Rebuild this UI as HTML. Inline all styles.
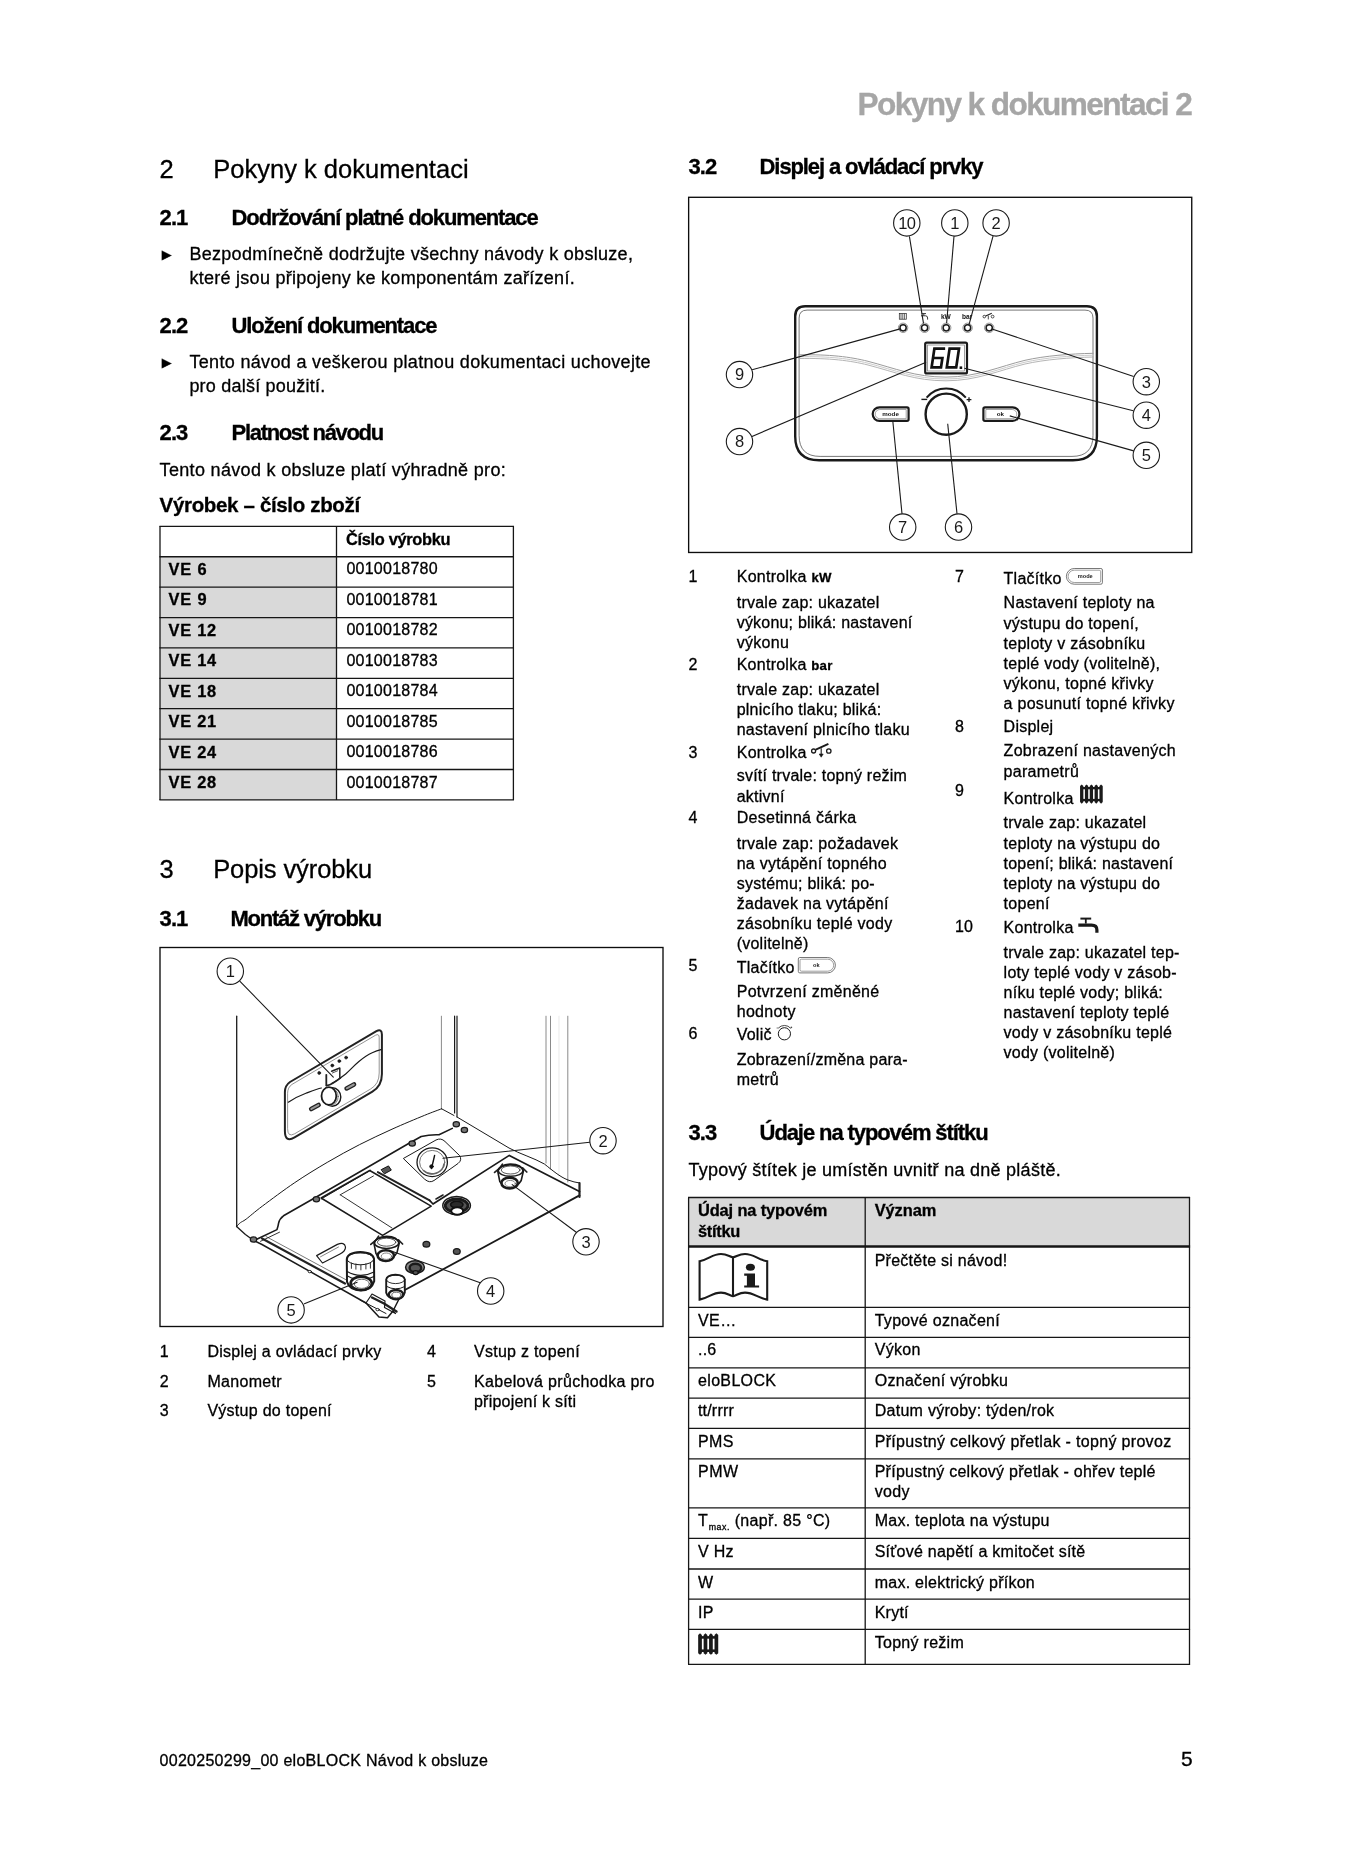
<!DOCTYPE html>
<html lang="cs"><head><meta charset="utf-8"><title>eloBLOCK – Návod k obsluze, strana 5</title>
<style>
html,body{margin:0;padding:0;background:#fff}
body{width:1358px;height:1872px;position:relative;overflow:hidden;font-family:"Liberation Sans",sans-serif;color:#000}
.t{position:absolute;white-space:nowrap;line-height:1;margin:0;padding:0;-webkit-text-stroke:0.3px currentColor}
.s{font-size:13.2px}
.sub{font-size:8.8px;position:relative;top:3.7px;letter-spacing:0.55px;margin-left:0.6px}
.ab{position:absolute}
#page{position:absolute;left:0;top:0;width:1358px;height:1872px;overflow:hidden;background:#fff;will-change:transform;filter:grayscale(1)}
#txt{position:absolute;left:0;top:0;width:1358px;height:1872px}
svg{position:absolute;left:0;top:0;overflow:visible}
</style></head>
<body>
<div id="page">
<svg width="1358" height="1872" viewBox="0 0 1358 1872" shape-rendering="auto">
<rect x="160.0" y="556.74" width="176.5" height="243.17" fill="#d9d9d9"/>
<line x1="159.4" y1="526.34" x2="514.0" y2="526.34" stroke="#161616" stroke-width="1.3"/>
<line x1="159.4" y1="556.74" x2="514.0" y2="556.74" stroke="#161616" stroke-width="1.3"/>
<line x1="159.4" y1="587.13" x2="514.0" y2="587.13" stroke="#161616" stroke-width="1.3"/>
<line x1="159.4" y1="617.53" x2="514.0" y2="617.53" stroke="#161616" stroke-width="1.3"/>
<line x1="159.4" y1="647.92" x2="514.0" y2="647.92" stroke="#161616" stroke-width="1.3"/>
<line x1="159.4" y1="678.32" x2="514.0" y2="678.32" stroke="#161616" stroke-width="1.3"/>
<line x1="159.4" y1="708.72" x2="514.0" y2="708.72" stroke="#161616" stroke-width="1.3"/>
<line x1="159.4" y1="739.11" x2="514.0" y2="739.11" stroke="#161616" stroke-width="1.3"/>
<line x1="159.4" y1="769.51" x2="514.0" y2="769.51" stroke="#161616" stroke-width="1.3"/>
<line x1="159.4" y1="799.90" x2="514.0" y2="799.90" stroke="#161616" stroke-width="1.3"/>
<line x1="160.0" y1="526.34" x2="160.0" y2="799.90" stroke="#161616" stroke-width="1.3"/>
<line x1="336.5" y1="526.34" x2="336.5" y2="799.90" stroke="#161616" stroke-width="1.3"/>
<line x1="513.4" y1="526.34" x2="513.4" y2="799.90" stroke="#161616" stroke-width="1.3"/>
<rect x="688.6" y="1197.5" width="500.9" height="49.0" fill="#d9d9d9"/>
<line x1="688.0" y1="1197.5" x2="1190.1" y2="1197.5" stroke="#161616" stroke-width="1.3"/>
<line x1="688.0" y1="1246.5" x2="1190.1" y2="1246.5" stroke="#161616" stroke-width="2.4"/>
<line x1="688.0" y1="1307.35" x2="1190.1" y2="1307.35" stroke="#161616" stroke-width="1.3"/>
<line x1="688.0" y1="1337.35" x2="1190.1" y2="1337.35" stroke="#161616" stroke-width="1.3"/>
<line x1="688.0" y1="1367.8" x2="1190.1" y2="1367.8" stroke="#161616" stroke-width="1.3"/>
<line x1="688.0" y1="1398.15" x2="1190.1" y2="1398.15" stroke="#161616" stroke-width="1.3"/>
<line x1="688.0" y1="1428.45" x2="1190.1" y2="1428.45" stroke="#161616" stroke-width="1.3"/>
<line x1="688.0" y1="1458.95" x2="1190.1" y2="1458.95" stroke="#161616" stroke-width="1.3"/>
<line x1="688.0" y1="1507.9" x2="1190.1" y2="1507.9" stroke="#161616" stroke-width="1.3"/>
<line x1="688.0" y1="1538.45" x2="1190.1" y2="1538.45" stroke="#161616" stroke-width="1.3"/>
<line x1="688.0" y1="1569.0" x2="1190.1" y2="1569.0" stroke="#161616" stroke-width="1.3"/>
<line x1="688.0" y1="1599.2" x2="1190.1" y2="1599.2" stroke="#161616" stroke-width="1.3"/>
<line x1="688.0" y1="1629.3" x2="1190.1" y2="1629.3" stroke="#161616" stroke-width="1.3"/>
<line x1="688.0" y1="1664.4" x2="1190.1" y2="1664.4" stroke="#161616" stroke-width="1.3"/>
<line x1="688.6" y1="1197.5" x2="688.6" y2="1664.4" stroke="#161616" stroke-width="1.3"/>
<line x1="865.2" y1="1197.5" x2="865.2" y2="1664.4" stroke="#161616" stroke-width="1.3"/>
<line x1="1189.5" y1="1197.5" x2="1189.5" y2="1664.4" stroke="#161616" stroke-width="1.3"/>
<rect x="160.0" y="947.5" width="503.0" height="379.0" fill="none" stroke="#0d0d0d" stroke-width="1.35"/>
<rect x="688.64" y="197.3" width="503.1" height="355.17" fill="none" stroke="#0d0d0d" stroke-width="1.35"/>
</svg>
<svg width="1358" height="1872" viewBox="0 0 1358 1872" font-family="Liberation Sans, sans-serif" fill="none" stroke-linecap="round" stroke-linejoin="round">
<path d="M236.7,1016.2 V1226.5" stroke="#1a1a1a" stroke-width="1.3" fill="none"/>
<path d="M441.4,1016.2 V1108.9" stroke="#8a8a8a" stroke-width="1.0" fill="none"/>
<path d="M454.6,1016.2 V1113 M457.0,1016.2 V1117" stroke="#1a1a1a" stroke-width="1.2" fill="none"/>
<path d="M546.0,1016.2 V1163 M550.5,1016.2 V1169" stroke="#8a8a8a" stroke-width="1.0" fill="none"/>
<path d="M567.8,1016.2 V1182" stroke="#8a8a8a" stroke-width="1.0" fill="none"/>
<path d="M559,1016.2 V1176" stroke="#dcdcdc" stroke-width="0.6" fill="none"/>
<path d="M236.6,1226.4 C237.2,1225.8 238.9,1223.8 240.5,1222.6 C242.1,1221.4 242.5,1221.8 246.2,1219.1 C249.8,1216.3 254.3,1212.2 262.4,1206.1 C270.5,1200.0 284.0,1189.9 294.8,1182.6 C305.6,1175.3 316.4,1168.7 327.2,1162.4 C338.0,1156.1 348.8,1150.1 359.6,1144.6 C370.4,1139.1 381.2,1134.1 392,1129.2 C402.8,1124.3 416.1,1118.8 424.4,1115.4 C432.7,1112.0 438.7,1109.9 441.6,1108.8" stroke="#1a1a1a" stroke-width="1.0" fill="none"/>
<path d="M441.6,1108.8 L454,1115.5" stroke="#1a1a1a" stroke-width="1.0" fill="none"/>
<path d="M457,1117 L509,1148 C520,1154 534,1158 544.4,1164 C552,1170 560,1177 568,1180 C572,1181.5 576,1182.5 579.5,1183" stroke="#1a1a1a" stroke-width="1.0" fill="none"/>
<path d="M236.6,1226.4 L245.4,1234.5 L253.7,1240.5" stroke="#1a1a1a" stroke-width="1.3" fill="none"/>
<path d="M284.9,1092 Q284.9,1085.6 290,1082 L376.4,1031.2 Q381.9,1028.4 381.9,1034.6 V1074 Q381.9,1086 372.4,1091.6 L294.6,1137.4 Q284.9,1143 284.9,1131 Z" stroke="#222" stroke-width="2.0" fill="#fff"/>
<path d="M287.6,1093 Q287.6,1087.4 292,1084.4 L375.6,1035.2 Q379.2,1033.4 379.2,1037.6 V1073 Q379.2,1084 370.6,1089 L294.6,1133.8 Q287.6,1137.6 287.6,1129 Z" stroke="#666" stroke-width="0.7" fill="none"/>
<path d="M288.3,1102.2 C294,1098.5 300,1095.5 305.9,1093.3 C312,1091 317,1089 321.4,1088" stroke="#1a1a1a" stroke-width="1.2" fill="none"/>
<path d="M331.6,1083.6 C337,1080.5 341,1077.5 345.7,1073.9 C350,1070.5 354,1065.5 358.9,1061.5 C363,1058 368,1054.5 372.2,1052.7 C375,1051.5 378,1050.4 381,1049.6" stroke="#1a1a1a" stroke-width="1.2" fill="none"/>
<path d="M326.6,1085.6 C331,1084.6 336,1081.5 340.5,1077.8" stroke="#222" stroke-width="1.6" fill="none"/>
<ellipse cx="332.4" cy="1097.0" rx="8.4" ry="9.3" stroke="#1a1a1a" stroke-width="1.4" fill="#fff"/>
<ellipse cx="330.6" cy="1096.6" rx="7.6" ry="8.8" stroke="#555" stroke-width="0.8" fill="#fff"/>
<ellipse cx="328.9" cy="1096.0" rx="7.4" ry="8.8" stroke="#1a1a1a" stroke-width="1.8" fill="#fff"/>
<path d="M326.3,1074.8 V1085.4" stroke="#222" stroke-width="1.8" fill="none"/>
<path d="M331.6,1071.3 L339.8,1068.0 V1077.4" stroke="#222" stroke-width="1.5" fill="none"/>
<path d="M332.4,1073.0 L337.6,1070.8" stroke="#444" stroke-width="0.9" fill="none"/>
<circle cx="319.2" cy="1073.0" r="1.45" stroke="#1a1a1a" stroke-width="0.7" fill="#1a1a1a"/>
<circle cx="332.3" cy="1065.5" r="1.45" stroke="#1a1a1a" stroke-width="0.7" fill="#1a1a1a"/>
<circle cx="339.3" cy="1061.1" r="1.45" stroke="#1a1a1a" stroke-width="0.7" fill="#1a1a1a"/>
<circle cx="346.1" cy="1057.6" r="1.45" stroke="#1a1a1a" stroke-width="0.7" fill="#1a1a1a"/>
<path d="M311.2,1109.0 L318.6,1105.0" stroke="#222" stroke-width="4.6" fill="none"/>
<path d="M311.4,1108.9 L318.4,1105.1" stroke="#9a9a9a" stroke-width="2.0" fill="none"/>
<path d="M346.6,1088.4 L354.0,1084.4" stroke="#222" stroke-width="4.6" fill="none"/>
<path d="M346.8,1088.3 L353.8,1084.5" stroke="#9a9a9a" stroke-width="2.0" fill="none"/>
<path d="M253.7,1240.5 L262,1244.5 L366,1303 L379,1317 L387.5,1317.8 L393,1311 L403,1291" stroke="#1a1a1a" stroke-width="1.5" fill="none"/>
<path d="M262,1238.5 L345,1283.5" stroke="#222" stroke-width="2.2" fill="none"/>
<path d="M266,1236.5 L352,1283" stroke="#555" stroke-width="0.8" fill="none"/>
<path d="M360,1300 L386,1313.5" stroke="#1a1a1a" stroke-width="1.0" fill="none"/>
<path d="M403,1291 L579.5,1195.4" stroke="#1a1a1a" stroke-width="1.8" fill="none"/>
<path d="M579.5,1183 V1197" stroke="#222" stroke-width="2.2" fill="none"/>
<path d="M256.7,1239.3 L277,1229.6 Q278.2,1226 278.6,1223.1 Q279.6,1218.6 283.5,1215.8 L315.9,1197.2 L408.2,1143.7 L421.2,1136.5 Q430,1134.4 439,1134.8 L452.3,1128.4" stroke="#1a1a1a" stroke-width="1.6" fill="none"/>
<path d="M260.5,1241.3 L279.5,1232.2" stroke="#1a1a1a" stroke-width="0.9" fill="none"/>
<path d="M321.1,1198 L369.7,1170.5 L431.2,1206.1 L382.6,1235.3 Z" stroke="#1a1a1a" stroke-width="1.5" fill="none"/>
<path d="M340.2,1194.8 L373.4,1176 M340.2,1194.8 L392,1228" stroke="#333" stroke-width="1.0" fill="none"/>
<path d="M377.8,1172.1 L429.6,1200.4" stroke="#222" stroke-width="1.9" fill="none"/>
<path d="M321.6,1198.8 L370.6,1170.2" stroke="#1a1a1a" stroke-width="1.0" fill="none"/>
<path d="M429.6,1200.4 L433,1204 L509.3,1155.4 L579.5,1191.5" stroke="#1a1a1a" stroke-width="1.7" fill="none"/>
<path d="M436,1199 L443,1195" stroke="#222" stroke-width="1.6" fill="none"/>
<path d="M403.7,1158.3 L436,1140 Q441,1137.5 445,1141.5 L459.5,1155.5 Q462.5,1160 458,1163.5 L434,1180.5 Q429.6,1183.5 425,1179.5 Z" stroke="#1a1a1a" stroke-width="1.0" fill="none"/>
<ellipse cx="432.2" cy="1162.2" rx="15.2" ry="14.4" stroke="#1a1a1a" stroke-width="1.3" fill="#fff"/>
<ellipse cx="432.2" cy="1162.2" rx="12.6" ry="11.8" stroke="#555" stroke-width="0.8" fill="none"/>
<path d="M423.5,1170.5 A12,11 0 0 0 444,1164" stroke="#666" stroke-width="1.6" fill="none"/>
<path d="M431.5,1168.5 L434.6,1155.5" stroke="#111" stroke-width="1.4" fill="none"/>
<circle cx="431.5" cy="1166.5" r="1.8" stroke="#111" stroke-width="0.8" fill="#111"/>
<ellipse cx="456.3" cy="1124.3" rx="3.2" ry="2.6" stroke="#1a1a1a" stroke-width="1.2" fill="#777"/>
<ellipse cx="464.4" cy="1130" rx="3.2" ry="2.6" stroke="#1a1a1a" stroke-width="1.2" fill="#777"/>
<ellipse cx="412.2" cy="1143.5" rx="3.2" ry="2.6" stroke="#1a1a1a" stroke-width="1.2" fill="#777"/>
<ellipse cx="316.4" cy="1199.2" rx="3.2" ry="2.6" stroke="#1a1a1a" stroke-width="1.2" fill="#777"/>
<ellipse cx="253.5" cy="1239.5" rx="3.2" ry="2.6" stroke="#1a1a1a" stroke-width="1.2" fill="#777"/>
<path d="M381.5,1169.5 l7,-3.6 l2.8,4.2 l-6.6,3.6 Z" stroke="#111" stroke-width="1.0" fill="#555"/>
<ellipse cx="426.4" cy="1244.2" rx="3.4" ry="2.9" stroke="#1a1a1a" stroke-width="1.3" fill="#555"/>
<ellipse cx="456.8" cy="1251.5" rx="3.4" ry="2.9" stroke="#1a1a1a" stroke-width="1.3" fill="#555"/>
<ellipse cx="456.6" cy="1205.6" rx="13.8" ry="9.0" stroke="#1a1a1a" stroke-width="1.5" fill="#fff"/>
<ellipse cx="456.6" cy="1205.6" rx="11.4" ry="6.6" stroke="#1a1a1a" stroke-width="2.8" fill="#555"/>
<ellipse cx="456.8" cy="1204.6" rx="6.2" ry="3.4" stroke="#111" stroke-width="1.6" fill="#2a2a2a"/>
<ellipse cx="457.2" cy="1211.0" rx="6.0" ry="3.8" stroke="#111" stroke-width="2.0" fill="#fff"/>
<path d="M497.8,1171.5 q1.6,-7 12.8,-7.4 q11.2,0.3 12.8,7 l-2.2,9.4 q-3.6,6.4 -11,6.4 q-7,0 -10.4,-5.4 Z" stroke="#1a1a1a" stroke-width="1.6" fill="#fff"/>
<path d="M494.6,1172.4 l5.4,-4.6 l2.4,-3.6 M526.8,1172 l-4.2,-4.2" stroke="#222" stroke-width="1.7" fill="none"/>
<ellipse cx="510.6" cy="1170.6" rx="12.4" ry="5.6" stroke="#1a1a1a" stroke-width="1.5" fill="none"/>
<ellipse cx="510.6" cy="1170.0" rx="9.4" ry="4.0" stroke="#444" stroke-width="0.9" fill="none"/>
<ellipse cx="509.6" cy="1183.0" rx="8.2" ry="5.4" stroke="#1a1a1a" stroke-width="2.6" fill="#fff"/>
<ellipse cx="510.2" cy="1183.6" rx="5.2" ry="3.2" stroke="#666" stroke-width="0.8" fill="#fff"/>
<path d="M374.0,1243.6 q1.6,-7 12.6,-7.4 q11,0.3 12.6,7 l-2.2,9.4 q-3.6,6.4 -10.8,6.4 q-7,0 -10.2,-5.4 Z" stroke="#1a1a1a" stroke-width="1.6" fill="#fff"/>
<path d="M370.8,1244.4 l5.4,-4.6 l2.4,-3.6 M402.6,1244 l-4.2,-4.2" stroke="#222" stroke-width="1.7" fill="none"/>
<ellipse cx="386.6" cy="1242.8" rx="12.2" ry="5.6" stroke="#1a1a1a" stroke-width="1.5" fill="none"/>
<ellipse cx="386.6" cy="1242.2" rx="9.2" ry="4.0" stroke="#444" stroke-width="0.9" fill="none"/>
<ellipse cx="385.8" cy="1255.6" rx="8.2" ry="5.4" stroke="#1a1a1a" stroke-width="2.6" fill="#fff"/>
<ellipse cx="386.4" cy="1256.2" rx="5.2" ry="3.2" stroke="#666" stroke-width="0.8" fill="#fff"/>
<ellipse cx="415" cy="1267.2" rx="9.4" ry="6.4" stroke="#1a1a1a" stroke-width="1.5" fill="#888"/>
<ellipse cx="415.4" cy="1268.0" rx="5.8" ry="4.2" stroke="#1a1a1a" stroke-width="2.4" fill="#555"/>
<ellipse cx="415.6" cy="1272.6" rx="2.6" ry="2.0" stroke="#111" stroke-width="1.2" fill="#555"/>
<path d="M316.6,1255.6 L337.4,1244.4 Q344.5,1241.5 345.5,1247 Q345.6,1251.2 340,1254 L322.5,1263 Z" stroke="#1a1a1a" stroke-width="1.2" fill="none"/>
<path d="M320.5,1256.8 L338.5,1247" stroke="#666" stroke-width="0.8" fill="none"/>
<path d="M346.8,1259.2 q0.6,-6.6 13.4,-7.2 q12.8,0.4 13.8,6.8 l0.2,22.4 q-2.4,8.6 -13.6,9 q-11.4,-0.2 -13.6,-8.4 Z" stroke="#1a1a1a" stroke-width="2.0" fill="#fff"/>
<ellipse cx="360.4" cy="1258.8" rx="13.5" ry="6.0" stroke="#1a1a1a" stroke-width="1.0" fill="none"/>
<path d="M347.2,1271.5 q13,7.5 26.8,0.4 M347.6,1276 q13,7.5 26.4,0.4" stroke="#1a1a1a" stroke-width="1.1" fill="none"/>
<path d="M351.4,1262.98 v5.4" stroke="#333" stroke-width="1.0" fill="none"/>
<path d="M355.9,1263.79 v5.4" stroke="#333" stroke-width="1.0" fill="none"/>
<path d="M360.9,1264.51 v5.4" stroke="#333" stroke-width="1.0" fill="none"/>
<path d="M365.9,1263.61 v5.4" stroke="#333" stroke-width="1.0" fill="none"/>
<path d="M370.4,1262.8 v5.4" stroke="#333" stroke-width="1.0" fill="none"/>
<ellipse cx="361.2" cy="1283.4" rx="10.6" ry="6.8" stroke="#1a1a1a" stroke-width="2.6" fill="#fff"/>
<ellipse cx="361.8" cy="1283.8" rx="7.6" ry="4.6" stroke="#555" stroke-width="0.9" fill="#fff"/>
<path d="M386.2,1279.6 q0.4,-4.6 9.2,-5 q8.6,0.2 9.4,4.8 v13 q-1.6,6 -9.4,6.2 q-7.6,-0.2 -9.2,-5.8 Z" stroke="#1a1a1a" stroke-width="1.9" fill="#fff"/>
<path d="M386.6,1286.4 q9,5 18,0.2" stroke="#1a1a1a" stroke-width="1.0" fill="none"/>
<ellipse cx="395.6" cy="1279.4" rx="9.2" ry="4.2" stroke="#1a1a1a" stroke-width="0.9" fill="none"/>
<ellipse cx="396" cy="1294.6" rx="7.2" ry="4.6" stroke="#1a1a1a" stroke-width="2.4" fill="#fff"/>
<ellipse cx="396.4" cy="1295" rx="4.6" ry="2.8" stroke="#555" stroke-width="0.9" fill="#fff"/>
<path d="M372,1297.5 L384,1303.5 L396.5,1311.5" stroke="#222" stroke-width="2.4" fill="none"/>
<path d="M366,1303 L372,1294 L385,1301 L384.5,1307.5 L395.5,1313.5 L393,1311" stroke="#1a1a1a" stroke-width="1.2" fill="none"/>
<ellipse cx="377.6" cy="1309.6" rx="1.7" ry="1.2" stroke="#1a1a1a" stroke-width="0.9" fill="#fff"/>
<ellipse cx="309.8" cy="1271.6" rx="1.7" ry="1.2" stroke="#1a1a1a" stroke-width="0.9" fill="#fff"/>
<path d="M240.0,981.4 L333.3,1077.1" stroke="#1a1a1a" stroke-width="1.1" fill="none"/>
<path d="M589.7,1142.3 L442.9,1158.3" stroke="#1a1a1a" stroke-width="1.1" fill="none"/>
<path d="M576.6,1232.5 L512.2,1184.6" stroke="#1a1a1a" stroke-width="1.1" fill="none"/>
<path d="M481.6,1283.2 L392.5,1251.4" stroke="#1a1a1a" stroke-width="1.1" fill="none"/>
<path d="M304.4,1303.7 L357.1,1282.2" stroke="#1a1a1a" stroke-width="1.1" fill="none"/>
<circle cx="230.3" cy="971.2" r="13.2" fill="#fff" stroke="#1a1a1a" stroke-width="1.1"/>
<text x="230.3" y="977.0" font-size="16.5" text-anchor="middle" fill="#1a1a1a" stroke="none">1</text>
<circle cx="603.0" cy="1140.7" r="13.2" fill="#fff" stroke="#1a1a1a" stroke-width="1.1"/>
<text x="603.0" y="1146.5" font-size="16.5" text-anchor="middle" fill="#1a1a1a" stroke="none">2</text>
<circle cx="586.0" cy="1241.8" r="13.2" fill="#fff" stroke="#1a1a1a" stroke-width="1.1"/>
<text x="586.0" y="1247.6" font-size="16.5" text-anchor="middle" fill="#1a1a1a" stroke="none">3</text>
<circle cx="490.7" cy="1291.0" r="13.2" fill="#fff" stroke="#1a1a1a" stroke-width="1.1"/>
<text x="490.7" y="1296.8" font-size="16.5" text-anchor="middle" fill="#1a1a1a" stroke="none">4</text>
<circle cx="291.1" cy="1309.9" r="13.2" fill="#fff" stroke="#1a1a1a" stroke-width="1.1"/>
<text x="291.1" y="1315.7" font-size="16.5" text-anchor="middle" fill="#1a1a1a" stroke="none">5</text>
</svg>
<svg width="1358" height="1872" viewBox="0 0 1358 1872" font-family="Liberation Sans, sans-serif">
<path d="M805.2,306.2 H1086.9 Q1096.9,306.2 1096.9,316.2 V436.3 Q1096.9,460.3 1072.9,460.3 H819.2 Q795.2,460.3 795.2,436.3 V316.2 Q795.2,306.2 805.2,306.2 Z" fill="#fff" stroke="#1a1a1a" stroke-width="2.4"/>
<path d="M807.1,310.09999999999997 H1085.0 Q1093.0,310.09999999999997 1093.0,318.09999999999997 V435.40000000000003 Q1093.0,456.40000000000003 1072.0,456.40000000000003 H820.1 Q799.1,456.40000000000003 799.1,435.40000000000003 V318.09999999999997 Q799.1,310.09999999999997 807.1,310.09999999999997 Z" fill="none" stroke="#555" stroke-width="0.8"/>
<path d="M798.5,354.8 C830,354.3 850,356.8 868,361.3 C895,368.3 915,377.1 946,377.1 C977,377.1 1000,366.3 1025,360.3 C1045,355.8 1070,353.8 1093.5,353.3" fill="none" stroke="#9c9c9c" stroke-width="1.0"/>
<path d="M798.5,356.7 C830,356.2 850,358.7 868,363.2 C895,370.2 915,379.0 946,379.0 C977,379.0 1000,368.2 1025,362.2 C1045,357.7 1070,355.7 1093.5,355.2" fill="none" stroke="#c4c4c4" stroke-width="0.9"/>
<path d="M798.5,358.5 C830,358.0 850,360.5 868,365.0 C895,372.0 915,380.8 946,380.8 C977,380.8 1000,370.0 1025,364.0 C1045,359.5 1070,357.5 1093.5,357.0" fill="none" stroke="#adadad" stroke-width="0.9"/>
<circle cx="903.1" cy="327.8" r="4.7" fill="#fff" stroke="#777" stroke-width="0.8"/>
<circle cx="903.1" cy="327.8" r="3.1" fill="none" stroke="#1a1a1a" stroke-width="1.5"/>
<circle cx="924.6" cy="327.8" r="4.7" fill="#fff" stroke="#777" stroke-width="0.8"/>
<circle cx="924.6" cy="327.8" r="3.1" fill="none" stroke="#1a1a1a" stroke-width="1.5"/>
<circle cx="946.2" cy="327.8" r="4.7" fill="#fff" stroke="#777" stroke-width="0.8"/>
<circle cx="946.2" cy="327.8" r="3.1" fill="none" stroke="#1a1a1a" stroke-width="1.5"/>
<circle cx="967.6" cy="327.8" r="4.7" fill="#fff" stroke="#777" stroke-width="0.8"/>
<circle cx="967.6" cy="327.8" r="3.1" fill="none" stroke="#1a1a1a" stroke-width="1.5"/>
<circle cx="989.2" cy="327.8" r="4.7" fill="#fff" stroke="#777" stroke-width="0.8"/>
<circle cx="989.2" cy="327.8" r="3.1" fill="none" stroke="#1a1a1a" stroke-width="1.5"/>
<g stroke="#222" stroke-width="0.7" fill="none"><rect x="899.3" y="313.6" width="7" height="5.6"/><line x1="901" y1="313.6" x2="901" y2="319.2"/><line x1="902.8" y1="313.6" x2="902.8" y2="319.2"/><line x1="904.6" y1="313.6" x2="904.6" y2="319.2"/></g>
<path d="M921.6,313.6 h4.4 M923.8,313.6 v2 M921,315.8 h4.6 q2,0 2,2.2 v1.6" fill="none" stroke="#222" stroke-width="0.9"/>
<text x="945.9" y="319.4" font-size="6.6" font-weight="700" text-anchor="middle" fill="#111">kW</text>
<text x="967.2" y="319.4" font-size="6.6" font-weight="700" text-anchor="middle" fill="#111">bar</text>
<g stroke="#222" stroke-width="0.8" fill="none"><circle cx="984.3" cy="316.6" r="1.3"/><circle cx="992.6" cy="316.6" r="1.4"/><line x1="985.6" y1="316" x2="991.8" y2="313.2" stroke-width="1.1"/><line x1="988.3" y1="315.6" x2="988.3" y2="319.4"/></g>
<rect x="925.2" y="342.6" width="41.8" height="30.8" rx="1.5" fill="#fff" stroke="#1a1a1a" stroke-width="2.2"/>
<rect x="927.6" y="345.0" width="37.0" height="26.0" fill="none" stroke="#777" stroke-width="0.7"/>
<g fill="none" stroke="#111" stroke-width="2.7" stroke-linecap="square" stroke-linejoin="miter"><path d="M943.8,348.6 H934.4 L931.6,367.4 H941.0 L942.4,358 H933.4"/><path d="M949.6,348.6 H959.0 L956.2,367.4 H946.8 Z"/></g>
<rect x="959.6" y="366.4" width="2.6" height="2.6" fill="#111"/>
<circle cx="946.2" cy="414.2" r="20.6" fill="#fff" stroke="#1a1a1a" stroke-width="2.4"/>
<path d="M926.6,397.6 A25.6,25.6 0 0 1 965.8,397.6" fill="none" stroke="#1a1a1a" stroke-width="2.0"/>
<line x1="921.4" y1="399.4" x2="927.2" y2="399.4" stroke="#1a1a1a" stroke-width="1.4"/>
<path d="M966.6,399.6 h4.8 M969,397.2 v4.8" stroke="#1a1a1a" stroke-width="1.3" fill="none"/>
<path d="M879.5,407.3 H907 q1.6,0 1.6,1.6 V419.3 q0,1.6 -1.6,1.6 H879.5 a6.8,6.8 0 0 1 0,-13.6 Z" fill="#fff" stroke="#1a1a1a" stroke-width="2.2"/>
<path d="M879.8,409.5 H906.2 V418.7 H879.8 a4.6,4.6 0 0 1 0,-9.2 Z" fill="none" stroke="#666" stroke-width="0.6"/>
<text x="890.6" y="416.4" font-size="6.2" font-weight="700" text-anchor="middle" fill="#111">mode</text>
<path d="M1012.6,407.3 H985 q-1.6,0 -1.6,1.6 V419.3 q0,1.6 1.6,1.6 H1012.6 a6.8,6.8 0 0 0 0,-13.6 Z" fill="#fff" stroke="#1a1a1a" stroke-width="2.2"/>
<path d="M1012.2,409.5 H985.8 V418.7 H1012.2 a4.6,4.6 0 0 0 0,-9.2 Z" fill="none" stroke="#666" stroke-width="0.6"/>
<text x="1000.4" y="416.4" font-size="6.2" font-weight="700" text-anchor="middle" fill="#111">ok</text>
<line x1="909.4" y1="236.3" x2="923.5" y2="323.3" stroke="#1a1a1a" stroke-width="1.1"/>
<line x1="954.0" y1="236.3" x2="946.6" y2="323.3" stroke="#1a1a1a" stroke-width="1.1"/>
<line x1="993.1" y1="235.9" x2="968.9" y2="325.2" stroke="#1a1a1a" stroke-width="1.1"/>
<line x1="752.1" y1="369.8" x2="900.1" y2="328.9" stroke="#1a1a1a" stroke-width="1.1"/>
<line x1="751.4" y1="436.7" x2="926.1" y2="362.3" stroke="#1a1a1a" stroke-width="1.1"/>
<line x1="1133.7" y1="376.5" x2="992.0" y2="328.9" stroke="#1a1a1a" stroke-width="1.1"/>
<line x1="1133.3" y1="410.7" x2="964.4" y2="368.3" stroke="#1a1a1a" stroke-width="1.1"/>
<line x1="1133.7" y1="450.9" x2="1009.8" y2="415.9" stroke="#1a1a1a" stroke-width="1.1"/>
<line x1="902.0" y1="513.7" x2="892.7" y2="420.0" stroke="#1a1a1a" stroke-width="1.1"/>
<line x1="957.0" y1="513.7" x2="947.7" y2="423.7" stroke="#1a1a1a" stroke-width="1.1"/>
<circle cx="906.8" cy="222.9" r="13.2" fill="#fff" stroke="#1a1a1a" stroke-width="1.1"/>
<text x="906.8" y="228.70000000000002" font-size="16.5" text-anchor="middle" fill="#1a1a1a" letter-spacing="-0.6">10</text>
<circle cx="954.8" cy="222.9" r="13.2" fill="#fff" stroke="#1a1a1a" stroke-width="1.1"/>
<text x="954.8" y="228.70000000000002" font-size="16.5" text-anchor="middle" fill="#1a1a1a">1</text>
<circle cx="996.1" cy="222.9" r="13.2" fill="#fff" stroke="#1a1a1a" stroke-width="1.1"/>
<text x="996.1" y="228.70000000000002" font-size="16.5" text-anchor="middle" fill="#1a1a1a">2</text>
<circle cx="739.5" cy="374.6" r="13.2" fill="#fff" stroke="#1a1a1a" stroke-width="1.1"/>
<text x="739.5" y="380.40000000000003" font-size="16.5" text-anchor="middle" fill="#1a1a1a">9</text>
<circle cx="739.5" cy="441.6" r="13.2" fill="#fff" stroke="#1a1a1a" stroke-width="1.1"/>
<text x="739.5" y="447.40000000000003" font-size="16.5" text-anchor="middle" fill="#1a1a1a">8</text>
<circle cx="1146.3" cy="381.7" r="13.2" fill="#fff" stroke="#1a1a1a" stroke-width="1.1"/>
<text x="1146.3" y="387.5" font-size="16.5" text-anchor="middle" fill="#1a1a1a">3</text>
<circle cx="1146.3" cy="415.2" r="13.2" fill="#fff" stroke="#1a1a1a" stroke-width="1.1"/>
<text x="1146.3" y="421.0" font-size="16.5" text-anchor="middle" fill="#1a1a1a">4</text>
<circle cx="1146.3" cy="455.3" r="13.2" fill="#fff" stroke="#1a1a1a" stroke-width="1.1"/>
<text x="1146.3" y="461.1" font-size="16.5" text-anchor="middle" fill="#1a1a1a">5</text>
<circle cx="902.7" cy="527.1" r="13.2" fill="#fff" stroke="#1a1a1a" stroke-width="1.1"/>
<text x="902.7" y="532.9" font-size="16.5" text-anchor="middle" fill="#1a1a1a">7</text>
<circle cx="958.5" cy="527.1" r="13.2" fill="#fff" stroke="#1a1a1a" stroke-width="1.1"/>
<text x="958.5" y="532.9" font-size="16.5" text-anchor="middle" fill="#1a1a1a">6</text>
</svg>
<svg width="1358" height="1872" viewBox="0 0 1358 1872" font-family="Liberation Sans, sans-serif" fill="none">
<path d="M1074.25,568.50 H1100.90 q1.5,0 1.5,1.5 V582.70 q0,1.5 -1.5,1.5 H1074.25 a7.85,7.85 0 0 1 0,-15.70 Z" stroke="#555" stroke-width="0.8"/>
<path d="M1074.25,570.20 H1099.20 q1.5,0 1.5,1.5 V581.00 q0,1.5 -1.5,1.5 H1074.25 a6.15,6.15 0 0 1 0,-12.30 Z" stroke="#777" stroke-width="0.7"/>
<text x="1085.2" y="578.2" font-size="5.6" font-weight="700" text-anchor="middle" fill="#222">mode</text>
<path d="M827.70,957.50 H799.80 q-1.5,0 -1.5,1.5 V971.40 q0,1.5 1.5,1.5 H827.70 a7.70,7.70 0 0 0 0,-15.40 Z" stroke="#555" stroke-width="0.8"/>
<path d="M827.70,959.20 H801.50 q-1.5,0 -1.5,1.5 V969.70 q0,1.5 1.5,1.5 H827.70 a6.00,6.00 0 0 0 0,-12.00 Z" stroke="#777" stroke-width="0.7"/>
<text x="816.3" y="967.2" font-size="5.6" font-weight="700" text-anchor="middle" fill="#222">ok</text>
<g stroke="#1a1a1a"><circle cx="813.6" cy="751" r="2.0" stroke-width="1.3"/><circle cx="828.8" cy="751" r="2.2" stroke-width="1.3"/><line x1="815.8" y1="749.6" x2="828.4" y2="743.9" stroke-width="1.9"/><line x1="821.2" y1="748.2" x2="821.2" y2="755" stroke-width="1.1"/><path d="M819.2,754 L821.2,757.2 L823.2,754 Z" fill="#1a1a1a" stroke-width="0.6"/></g>
<circle cx="784.4" cy="1033.8" r="6.1" stroke="#1a1a1a" stroke-width="1.0"/>
<path d="M778.2,1028.2 A8.4,8.4 0 0 1 790.8,1028.4" stroke="#1a1a1a" stroke-width="0.8"/>
<path d="M790.6,1027.4 h1.6 M791.4,1026.6 v1.6 M776.6,1028 h1.4" stroke="#1a1a1a" stroke-width="0.6"/>
<g fill="#1a1a1a" stroke="none"><path d="M1081.72,784.50 L1083.37,786.10 V802.10 L1081.72,803.70 L1080.07,802.10 V786.10 Z"/><path d="M1086.56,784.50 L1088.21,786.10 V802.10 L1086.56,803.70 L1084.91,802.10 V786.10 Z"/><path d="M1091.40,784.50 L1093.05,786.10 V802.10 L1091.40,803.70 L1089.75,802.10 V786.10 Z"/><path d="M1096.24,784.50 L1097.89,786.10 V802.10 L1096.24,803.70 L1094.59,802.10 V786.10 Z"/><path d="M1101.08,784.50 L1102.73,786.10 V802.10 L1101.08,803.70 L1099.43,802.10 V786.10 Z"/><rect x="1080.75" y="787.00" width="21.30" height="2.30"/><rect x="1080.75" y="798.90" width="21.30" height="2.30"/></g>
<g fill="#1a1a1a" stroke="none"><path d="M700.02,1633.30 L701.88,1634.90 V1653.20 L700.02,1654.80 L698.17,1653.20 V1634.90 Z"/><path d="M705.48,1633.30 L707.33,1634.90 V1653.20 L705.48,1654.80 L703.62,1653.20 V1634.90 Z"/><path d="M710.92,1633.30 L712.78,1634.90 V1653.20 L710.92,1654.80 L709.07,1653.20 V1634.90 Z"/><path d="M716.38,1633.30 L718.23,1634.90 V1653.20 L716.38,1654.80 L714.52,1653.20 V1634.90 Z"/><rect x="698.93" y="1636.10" width="18.53" height="2.58"/><rect x="698.93" y="1649.42" width="18.53" height="2.58"/></g>
<path d="M1080.4,918.6 H1091.2" stroke="#1a1a1a" stroke-width="2.0"/>
<path d="M1085.8,918.6 V923.6" stroke="#1a1a1a" stroke-width="1.8"/>
<path d="M1078.3,925.2 H1091.5 Q1096.9,925.2 1096.9,930 V932.8" stroke="#1a1a1a" stroke-width="3.2"/>
<path d="M699.6,1261.2 C709,1259.6 712,1254 721,1254 C727,1254 729.5,1256.6 733,1257.2 C736.5,1256.6 739,1254 745,1254 C754,1254 757.5,1259.6 767.2,1261.2 V1299.6 C757.5,1298 754,1292.6 745,1292.6 C739,1292.6 736.5,1295.6 733,1296.2 C729.5,1295.6 727,1292.6 721,1292.6 C712,1292.6 709,1298 699.6,1299.6 Z" stroke="#1a1a1a" stroke-width="2.1" stroke-linejoin="miter"/>
<line x1="733" y1="1257.2" x2="733" y2="1296.2" stroke="#1a1a1a" stroke-width="2.1"/>
<ellipse cx="750.4" cy="1267.3" rx="4.5" ry="3.5" fill="#1a1a1a"/>
<path d="M744.2,1273.5 H755 V1285.4 H759.1 V1287.6 H744.2 V1285.4 H746.9 V1275.7 H744.2 Z" fill="#1a1a1a"/>
</svg>
<div id="txt">
<div class="t" style="left:857.6px;top:89.000px;font-size:31.6px;letter-spacing:-1.597px;font-weight:700;color:#a6a6a6;">Pokyny k dokumentaci 2</div>
<div class="t" style="left:159.6px;top:157.000px;font-size:25.5px;">2</div>
<div class="t" style="left:213.2px;top:157.000px;font-size:25.5px;letter-spacing:0.014px;">Pokyny k dokumentaci</div>
<div class="t" style="left:159.6px;top:207.000px;font-size:22px;letter-spacing:-0.931px;font-weight:700;">2.1</div>
<div class="t" style="left:231.6px;top:207.000px;font-size:22px;letter-spacing:-1.125px;font-weight:700;">Dodržování platné dokumentace</div>
<div class="t" style="left:158.8px;top:247.000px;font-size:16.0px;font-family:"DejaVu Sans",sans-serif;">►</div>
<div class="t" style="left:189.4px;top:245.000px;font-size:18px;letter-spacing:0.297px;">Bezpodmínečně dodržujte všechny návody k obsluze,</div>
<div class="t" style="left:189.4px;top:269.000px;font-size:18px;letter-spacing:0.275px;">které jsou připojeny ke komponentám zařízení.</div>
<div class="t" style="left:159.6px;top:315.000px;font-size:22px;letter-spacing:-0.931px;font-weight:700;">2.2</div>
<div class="t" style="left:231.6px;top:315.000px;font-size:22px;letter-spacing:-1.124px;font-weight:700;">Uložení dokumentace</div>
<div class="t" style="left:158.8px;top:355.000px;font-size:16.0px;font-family:"DejaVu Sans",sans-serif;">►</div>
<div class="t" style="left:189.4px;top:353.000px;font-size:18px;letter-spacing:0.331px;">Tento návod a veškerou platnou dokumentaci uchovejte</div>
<div class="t" style="left:189.4px;top:377.000px;font-size:18px;letter-spacing:0.218px;">pro další použití.</div>
<div class="t" style="left:159.6px;top:422.000px;font-size:22px;letter-spacing:-0.931px;font-weight:700;">2.3</div>
<div class="t" style="left:231.6px;top:422.000px;font-size:22px;letter-spacing:-1.328px;font-weight:700;">Platnost návodu</div>
<div class="t" style="left:159.6px;top:461.000px;font-size:18px;letter-spacing:0.324px;">Tento návod k obsluze platí výhradně pro:</div>
<div class="t" style="left:159.6px;top:495.000px;font-size:20.5px;letter-spacing:-0.340px;font-weight:700;">Výrobek – číslo zboží</div>
<div class="t" style="left:345.9px;top:531.000px;font-size:16.4px;letter-spacing:-0.315px;font-weight:700;">Číslo výrobku</div>
<div class="t" style="left:168.5px;top:561.000px;font-size:16.4px;letter-spacing:0.863px;font-weight:700;">VE 6</div>
<div class="t" style="left:346.4px;top:561.000px;font-size:16px;letter-spacing:0.252px;">0010018780</div>
<div class="t" style="left:168.5px;top:591.000px;font-size:16.4px;letter-spacing:0.863px;font-weight:700;">VE 9</div>
<div class="t" style="left:346.4px;top:592.000px;font-size:16px;letter-spacing:0.252px;">0010018781</div>
<div class="t" style="left:168.5px;top:622.000px;font-size:16.4px;letter-spacing:0.749px;font-weight:700;">VE 12</div>
<div class="t" style="left:346.4px;top:622.000px;font-size:16px;letter-spacing:0.252px;">0010018782</div>
<div class="t" style="left:168.5px;top:652.000px;font-size:16.4px;letter-spacing:0.749px;font-weight:700;">VE 14</div>
<div class="t" style="left:346.4px;top:653.000px;font-size:16px;letter-spacing:0.252px;">0010018783</div>
<div class="t" style="left:168.5px;top:683.000px;font-size:16.4px;letter-spacing:0.749px;font-weight:700;">VE 18</div>
<div class="t" style="left:346.4px;top:683.000px;font-size:16px;letter-spacing:0.252px;">0010018784</div>
<div class="t" style="left:168.5px;top:713.000px;font-size:16.4px;letter-spacing:0.749px;font-weight:700;">VE 21</div>
<div class="t" style="left:346.4px;top:714.000px;font-size:16px;letter-spacing:0.252px;">0010018785</div>
<div class="t" style="left:168.5px;top:744.000px;font-size:16.4px;letter-spacing:0.749px;font-weight:700;">VE 24</div>
<div class="t" style="left:346.4px;top:744.000px;font-size:16px;letter-spacing:0.252px;">0010018786</div>
<div class="t" style="left:168.5px;top:774.000px;font-size:16.4px;letter-spacing:0.749px;font-weight:700;">VE 28</div>
<div class="t" style="left:346.4px;top:775.000px;font-size:16px;letter-spacing:0.252px;">0010018787</div>
<div class="t" style="left:159.6px;top:857.000px;font-size:25.5px;">3</div>
<div class="t" style="left:213.2px;top:857.000px;font-size:25.5px;letter-spacing:-0.098px;">Popis výrobku</div>
<div class="t" style="left:159.6px;top:908.000px;font-size:22px;letter-spacing:-0.931px;font-weight:700;">3.1</div>
<div class="t" style="left:230.4px;top:908.000px;font-size:22px;letter-spacing:-1.212px;font-weight:700;">Montáž výrobku</div>
<div class="t" style="left:159.8px;top:1344.000px;font-size:16px;">1</div>
<div class="t" style="left:207.4px;top:1344.000px;font-size:16px;letter-spacing:0.252px;">Displej a ovládací prvky</div>
<div class="t" style="left:159.8px;top:1374.000px;font-size:16px;">2</div>
<div class="t" style="left:207.4px;top:1374.000px;font-size:16px;letter-spacing:0.324px;">Manometr</div>
<div class="t" style="left:159.8px;top:1403.000px;font-size:16px;">3</div>
<div class="t" style="left:207.4px;top:1403.000px;font-size:16px;letter-spacing:0.270px;">Výstup do topení</div>
<div class="t" style="left:427.0px;top:1344.000px;font-size:16px;">4</div>
<div class="t" style="left:474.0px;top:1344.000px;font-size:16px;letter-spacing:0.263px;">Vstup z topení</div>
<div class="t" style="left:427.0px;top:1374.000px;font-size:16px;">5</div>
<div class="t" style="left:474.0px;top:1374.000px;font-size:16px;letter-spacing:0.325px;">Kabelová průchodka pro</div>
<div class="t" style="left:474.0px;top:1394.000px;font-size:16px;letter-spacing:0.222px;">připojení k síti</div>
<div class="t" style="left:688.4px;top:156.000px;font-size:22px;letter-spacing:-0.931px;font-weight:700;">3.2</div>
<div class="t" style="left:759.6px;top:156.000px;font-size:22px;letter-spacing:-1.107px;font-weight:700;">Displej a ovládací prvky</div>
<div class="t" style="left:688.4px;top:569.000px;font-size:16px;">1</div>
<div class="t" style="left:736.7px;top:569.000px;font-size:16px;letter-spacing:0.275px;">Kontrolka <b class='s'>kW</b></div>
<div class="t" style="left:736.7px;top:595.000px;font-size:16px;letter-spacing:0.248px;">trvale zap: ukazatel</div>
<div class="t" style="left:736.7px;top:615.000px;font-size:16px;letter-spacing:0.206px;">výkonu; bliká: nastavení</div>
<div class="t" style="left:736.7px;top:635.000px;font-size:16px;letter-spacing:0.304px;">výkonu</div>
<div class="t" style="left:688.4px;top:657.000px;font-size:16px;">2</div>
<div class="t" style="left:736.7px;top:657.000px;font-size:16px;letter-spacing:0.256px;">Kontrolka <b class='s'>bar</b></div>
<div class="t" style="left:736.7px;top:682.000px;font-size:16px;letter-spacing:0.248px;">trvale zap: ukazatel</div>
<div class="t" style="left:736.7px;top:702.000px;font-size:16px;letter-spacing:0.229px;">plnicího tlaku; bliká:</div>
<div class="t" style="left:736.7px;top:722.000px;font-size:16px;letter-spacing:0.245px;">nastavení plnicího tlaku</div>
<div class="t" style="left:688.4px;top:745.000px;font-size:16px;">3</div>
<div class="t" style="left:736.7px;top:745.000px;font-size:16px;letter-spacing:0.270px;">Kontrolka</div>
<div class="t" style="left:736.7px;top:768.000px;font-size:16px;letter-spacing:0.237px;">svítí trvale: topný režim</div>
<div class="t" style="left:736.7px;top:789.000px;font-size:16px;letter-spacing:0.238px;">aktivní</div>
<div class="t" style="left:688.4px;top:810.000px;font-size:16px;">4</div>
<div class="t" style="left:736.7px;top:810.000px;font-size:16px;letter-spacing:0.278px;">Desetinná čárka</div>
<div class="t" style="left:736.7px;top:836.000px;font-size:16px;letter-spacing:0.283px;">trvale zap: požadavek</div>
<div class="t" style="left:736.7px;top:856.000px;font-size:16px;letter-spacing:0.275px;">na vytápění topného</div>
<div class="t" style="left:736.7px;top:876.000px;font-size:16px;letter-spacing:0.253px;">systému; bliká: po-</div>
<div class="t" style="left:736.7px;top:896.000px;font-size:16px;letter-spacing:0.278px;">žadavek na vytápění</div>
<div class="t" style="left:736.7px;top:916.000px;font-size:16px;letter-spacing:0.271px;">zásobníku teplé vody</div>
<div class="t" style="left:736.7px;top:936.000px;font-size:16px;letter-spacing:0.227px;">(volitelně)</div>
<div class="t" style="left:688.4px;top:958.000px;font-size:16px;">5</div>
<div class="t" style="left:736.7px;top:960.000px;font-size:16px;letter-spacing:0.252px;">Tlačítko</div>
<div class="t" style="left:736.7px;top:984.000px;font-size:16px;letter-spacing:0.292px;">Potvrzení změněné</div>
<div class="t" style="left:736.7px;top:1004.000px;font-size:16px;letter-spacing:0.293px;">hodnoty</div>
<div class="t" style="left:688.4px;top:1026.000px;font-size:16px;">6</div>
<div class="t" style="left:736.7px;top:1027.000px;font-size:16px;letter-spacing:0.243px;">Volič</div>
<div class="t" style="left:736.7px;top:1052.000px;font-size:16px;letter-spacing:0.228px;">Zobrazení/změna para-</div>
<div class="t" style="left:736.7px;top:1072.000px;font-size:16px;letter-spacing:0.295px;">metrů</div>
<div class="t" style="left:954.9px;top:569.000px;font-size:16px;">7</div>
<div class="t" style="left:1003.6px;top:571.000px;font-size:16px;letter-spacing:0.252px;">Tlačítko</div>
<div class="t" style="left:1003.6px;top:595.000px;font-size:16px;letter-spacing:0.263px;">Nastavení teploty na</div>
<div class="t" style="left:1003.6px;top:616.000px;font-size:16px;letter-spacing:0.262px;">výstupu do topení,</div>
<div class="t" style="left:1003.6px;top:636.000px;font-size:16px;letter-spacing:0.260px;">teploty v zásobníku</div>
<div class="t" style="left:1003.6px;top:656.000px;font-size:16px;letter-spacing:0.237px;">teplé vody (volitelně),</div>
<div class="t" style="left:1003.6px;top:676.000px;font-size:16px;letter-spacing:0.261px;">výkonu, topné křivky</div>
<div class="t" style="left:1003.6px;top:696.000px;font-size:16px;letter-spacing:0.285px;">a posunutí topné křivky</div>
<div class="t" style="left:954.9px;top:719.000px;font-size:16px;">8</div>
<div class="t" style="left:1003.6px;top:719.000px;font-size:16px;letter-spacing:0.247px;">Displej</div>
<div class="t" style="left:1003.6px;top:743.000px;font-size:16px;letter-spacing:0.284px;">Zobrazení nastavených</div>
<div class="t" style="left:1003.6px;top:764.000px;font-size:16px;letter-spacing:0.292px;">parametrů</div>
<div class="t" style="left:954.9px;top:783.000px;font-size:16px;">9</div>
<div class="t" style="left:1003.6px;top:791.000px;font-size:16px;letter-spacing:0.270px;">Kontrolka</div>
<div class="t" style="left:1003.6px;top:815.000px;font-size:16px;letter-spacing:0.248px;">trvale zap: ukazatel</div>
<div class="t" style="left:1003.6px;top:836.000px;font-size:16px;letter-spacing:0.259px;">teploty na výstupu do</div>
<div class="t" style="left:1003.6px;top:856.000px;font-size:16px;letter-spacing:0.210px;">topení; bliká: nastavení</div>
<div class="t" style="left:1003.6px;top:876.000px;font-size:16px;letter-spacing:0.259px;">teploty na výstupu do</div>
<div class="t" style="left:1003.6px;top:896.000px;font-size:16px;letter-spacing:0.267px;">topení</div>
<div class="t" style="left:954.9px;top:919.000px;font-size:16px;letter-spacing:0.320px;">10</div>
<div class="t" style="left:1003.6px;top:920.000px;font-size:16px;letter-spacing:0.270px;">Kontrolka</div>
<div class="t" style="left:1003.6px;top:945.000px;font-size:16px;letter-spacing:0.249px;">trvale zap: ukazatel tep-</div>
<div class="t" style="left:1003.6px;top:965.000px;font-size:16px;letter-spacing:0.251px;">loty teplé vody v zásob-</div>
<div class="t" style="left:1003.6px;top:985.000px;font-size:16px;letter-spacing:0.241px;">níku teplé vody; bliká:</div>
<div class="t" style="left:1003.6px;top:1005.000px;font-size:16px;letter-spacing:0.251px;">nastavení teploty teplé</div>
<div class="t" style="left:1003.6px;top:1025.000px;font-size:16px;letter-spacing:0.266px;">vody v zásobníku teplé</div>
<div class="t" style="left:1003.6px;top:1045.000px;font-size:16px;letter-spacing:0.242px;">vody (volitelně)</div>
<div class="t" style="left:688.4px;top:1122.000px;font-size:22px;letter-spacing:-0.931px;font-weight:700;">3.3</div>
<div class="t" style="left:759.6px;top:1122.000px;font-size:22px;letter-spacing:-1.095px;font-weight:700;">Údaje na typovém štítku</div>
<div class="t" style="left:688.4px;top:1161.000px;font-size:18px;letter-spacing:0.270px;">Typový štítek je umístěn uvnitř na dně pláště.</div>
<div class="t" style="left:698.0px;top:1202.000px;font-size:16.4px;letter-spacing:-0.131px;font-weight:700;">Údaj na typovém</div>
<div class="t" style="left:698.0px;top:1223.000px;font-size:16.4px;letter-spacing:-0.291px;font-weight:700;">štítku</div>
<div class="t" style="left:874.7px;top:1202.000px;font-size:16.4px;letter-spacing:-0.059px;font-weight:700;">Význam</div>
<div class="t" style="left:874.7px;top:1253.000px;font-size:16px;letter-spacing:0.256px;">Přečtěte si návod!</div>
<div class="t" style="left:698.0px;top:1313.000px;font-size:16px;letter-spacing:0.448px;">VE…</div>
<div class="t" style="left:874.7px;top:1313.000px;font-size:16px;letter-spacing:0.290px;">Typové označení</div>
<div class="t" style="left:698.0px;top:1342.000px;font-size:16px;letter-spacing:0.214px;">..6</div>
<div class="t" style="left:874.7px;top:1342.000px;font-size:16px;letter-spacing:0.320px;">Výkon</div>
<div class="t" style="left:698.0px;top:1373.000px;font-size:16px;letter-spacing:0.340px;">eloBLOCK</div>
<div class="t" style="left:874.7px;top:1373.000px;font-size:16px;letter-spacing:0.290px;">Označení výrobku</div>
<div class="t" style="left:698.0px;top:1403.000px;font-size:16px;letter-spacing:0.178px;">tt/rrrr</div>
<div class="t" style="left:874.7px;top:1403.000px;font-size:16px;letter-spacing:0.271px;">Datum výroby: týden/rok</div>
<div class="t" style="left:698.0px;top:1434.000px;font-size:16px;letter-spacing:0.416px;">PMS</div>
<div class="t" style="left:874.7px;top:1434.000px;font-size:16px;letter-spacing:0.328px;">Přípustný celkový přetlak - topný provoz</div>
<div class="t" style="left:698.0px;top:1464.000px;font-size:16px;letter-spacing:0.469px;">PMW</div>
<div class="t" style="left:874.7px;top:1464.000px;font-size:16px;letter-spacing:0.250px;">Přípustný celkový přetlak - ohřev teplé</div>
<div class="t" style="left:874.7px;top:1484.000px;font-size:16px;letter-spacing:0.304px;">vody</div>
<div class="t" style="left:698.0px;top:1513.000px;font-size:16px;letter-spacing:0.302px;">T<span class='sub'>max.</span> (např. 85 °C)</div>
<div class="t" style="left:874.7px;top:1513.000px;font-size:16px;letter-spacing:0.264px;">Max. teplota na výstupu</div>
<div class="t" style="left:698.0px;top:1544.000px;font-size:16px;letter-spacing:0.312px;">V Hz</div>
<div class="t" style="left:874.7px;top:1544.000px;font-size:16px;letter-spacing:0.253px;">Síťové napětí a kmitočet sítě</div>
<div class="t" style="left:698.0px;top:1575.000px;font-size:16px;">W</div>
<div class="t" style="left:874.7px;top:1575.000px;font-size:16px;letter-spacing:0.253px;">max. elektrický příkon</div>
<div class="t" style="left:698.0px;top:1605.000px;font-size:16px;letter-spacing:0.272px;">IP</div>
<div class="t" style="left:874.7px;top:1605.000px;font-size:16px;letter-spacing:0.237px;">Krytí</div>
<div class="t" style="left:874.7px;top:1635.000px;font-size:16px;letter-spacing:0.282px;">Topný režim</div>
<div class="t" style="left:159.6px;top:1753.000px;font-size:16px;letter-spacing:0.267px;">0020250299_00 eloBLOCK Návod k obsluze</div>
<div class="t" style="left:1181.0px;top:1748.000px;font-size:21px;">5</div>
</div>
</div>
</body></html>
